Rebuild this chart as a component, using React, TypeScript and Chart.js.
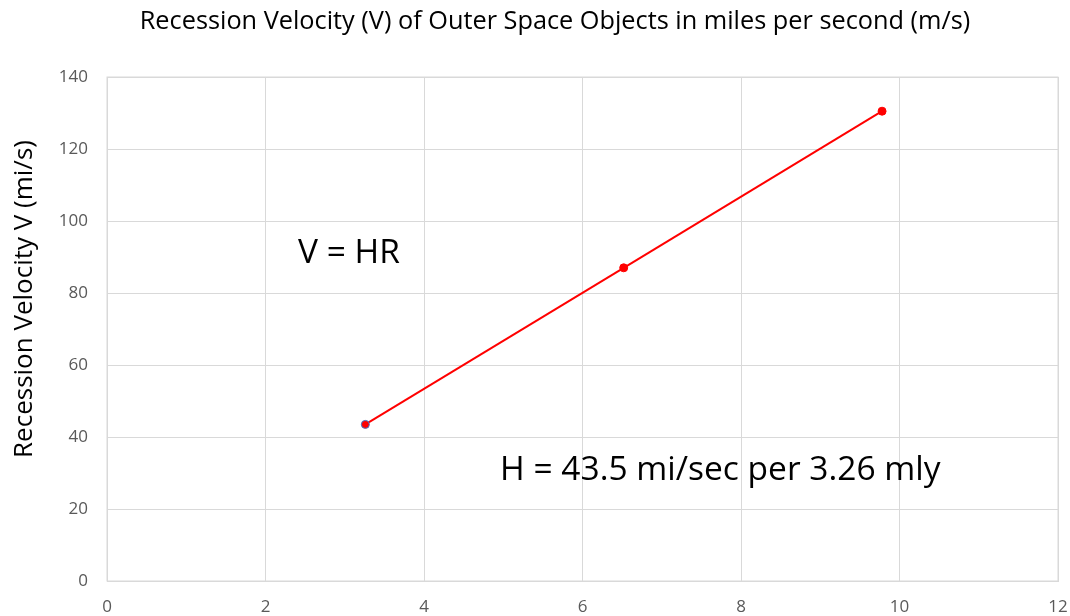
import React, { useEffect, useRef } from "react";
import { Chart, registerables } from "chart.js";

Chart.register(...registerables);

const distances = [3.26, 6.52, 9.78];
const velocities = [43.5, 87, 130.5];
const pointBorders = ["#4472C4", "#FF0000", "#FF0000"];
const titleText = "Recession Velocity (V) of Outer Space Objects in miles per second (m/s)";
const yTitle = "Recession Velocity V (mi/s)";
const notes = [
  { text: "V = HR", x: 2.41, y: 91 },
  { text: "H = 43.5 mi/sec per 3.26 mly", x: 4.96, y: 30.8 },
];

const FONT = "'Open Sans', 'Noto Sans', sans-serif";

const notePlugin = {
  id: "notes",
  afterDatasetsDraw(chart: any) {
    const { ctx, scales } = chart;
    ctx.save();
    ctx.fillStyle = "#000000";
    ctx.font = `33.5px ${FONT}`;
    ctx.textBaseline = "middle";
    ctx.textAlign = "left";
    for (const n of notes) {
      ctx.fillText(n.text, scales.x.getPixelForValue(n.x), scales.y.getPixelForValue(n.y));
    }
    ctx.restore();
  },
};

const textPlugin = {
  id: "texts",
  afterDraw(chart: any) {
    const { ctx } = chart;
    ctx.save();
    ctx.fillStyle = "#000000";
    ctx.textAlign = "center";
    ctx.textBaseline = "middle";
    ctx.font = `25.3px ${FONT}`;
    ctx.fillText(titleText, 555, 22);
    ctx.translate(25, 299);
    ctx.rotate(-Math.PI / 2);
    ctx.font = `26px ${FONT}`;
    ctx.fillText(yTitle, 0, 0);
    ctx.restore();
  },
};

const fitX = (scale: any) => {
  scale.paddingLeft = 0;
  scale.paddingRight = 0;
  scale.height = 35;
};

const fitY = (scale: any) => {
  scale.paddingTop = 0;
  scale.paddingBottom = 0;
  scale.width = 101;
};

export default function App() {
  const ref = useRef<HTMLCanvasElement>(null);
  useEffect(() => {
    if (!ref.current) return;
    const chart = new Chart(ref.current, {
      type: "scatter",
      data: {
        datasets: [
          {
            data: distances.map((d, i) => ({ x: d, y: velocities[i] })),
            showLine: true,
            borderColor: "#FF0000",
            borderWidth: 2,
            backgroundColor: "#FF0000",
            pointBackgroundColor: "#FF0000",
            pointBorderColor: pointBorders,
            pointBorderWidth: 1,
            pointRadius: 4,
          },
        ],
      },
      options: {
        animation: false,
        responsive: true,
        maintainAspectRatio: false,
        layout: { padding: { left: 6, right: 12, top: 77, bottom: 0 } },
        plugins: {
          legend: { display: false },
          tooltip: { enabled: false },
          title: { display: false },
        },
        scales: {
          x: {
            type: "linear",
            min: 0,
            max: 12,
            afterFit: fitX,
            ticks: { stepSize: 2, color: "#595959", font: { family: FONT, size: 17 }, padding: 16 },
            grid: { color: "#D9D9D9", drawTicks: false },
            border: { color: "#D9D9D9" },
          },
          y: {
            min: 0,
            max: 140,
            afterFit: fitY,
            ticks: { stepSize: 20, color: "#595959", font: { family: FONT, size: 17 }, padding: 19 },
            grid: { color: "#D9D9D9", drawTicks: false },
            border: { color: "#D9D9D9" },
          },
        },
      },
      plugins: [
        notePlugin,
        textPlugin,
        {
          id: "frame",
          afterDraw(c: any) {
            const { ctx, chartArea } = c;
            ctx.save();
            ctx.strokeStyle = "#D9D9D9";
            ctx.lineWidth = 1;
            ctx.strokeRect(chartArea.left, chartArea.top, chartArea.right - chartArea.left, chartArea.bottom - chartArea.top);
            ctx.restore();
          },
        },
      ],
    });
    return () => chart.destroy();
  }, []);
  return (
    <div style={{ position: "fixed", left: 0, top: 0, width: 1070, height: 616, background: "#fff" }}>
      <canvas ref={ref} />
    </div>
  );
}
